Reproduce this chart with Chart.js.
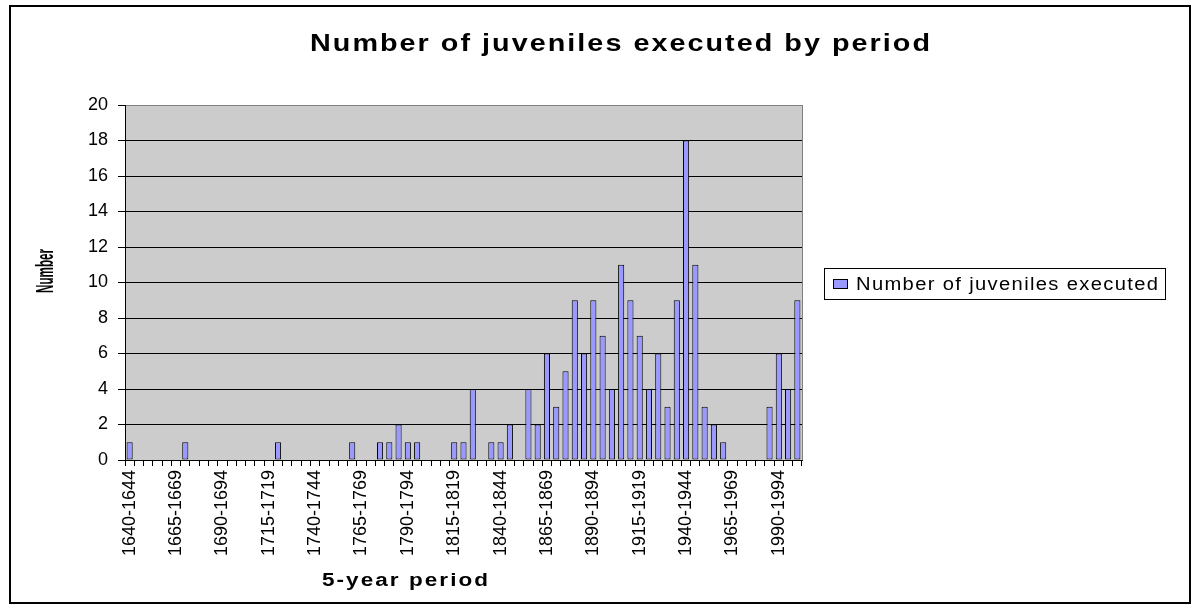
<!DOCTYPE html>
<html>
<head>
<meta charset="utf-8">
<script src="https://cdn.jsdelivr.net/npm/chart.js@4.4.1/dist/chart.umd.min.js"></script>
<style>
  html, body { margin: 0; padding: 0; background: #ffffff; }
  #c { display: block; }
</style>
</head>
<body>
<canvas id="c" width="1200" height="611"></canvas>
<script>
// Five-year periods, 1640-1644 through 2000-2004
const periods = [
  '1640-1644','1645-1649','1650-1654','1655-1659','1660-1664','1665-1669','1670-1674','1675-1679','1680-1684','1685-1689',
  '1690-1694','1695-1699','1700-1704','1705-1709','1710-1714','1715-1719','1720-1724','1725-1729','1730-1734','1735-1739',
  '1740-1744','1745-1749','1750-1754','1755-1759','1760-1764','1765-1769','1770-1774','1775-1779','1780-1784','1785-1789',
  '1790-1794','1795-1799','1800-1804','1805-1809','1810-1814','1815-1819','1820-1824','1825-1829','1830-1834','1835-1839',
  '1840-1844','1845-1849','1850-1854','1855-1859','1860-1864','1865-1869','1870-1874','1875-1879','1880-1884','1885-1889',
  '1890-1894','1895-1899','1900-1904','1905-1909','1910-1914','1915-1919','1920-1924','1925-1929','1930-1934','1935-1939',
  '1940-1944','1945-1949','1950-1954','1955-1959','1960-1964','1965-1969','1970-1974','1975-1979','1980-1984','1985-1989',
  '1990-1994','1995-1999','2000-2004'
];

// Juveniles executed in each period
const executed = [
  1, 0, 0, 0, 0, 0, 1, 0, 0, 0,
  0, 0, 0, 0, 0, 0, 1, 0, 0, 0,
  0, 0, 0, 0, 1, 0, 0, 1, 1, 2,
  1, 1, 0, 0, 0, 1, 1, 4, 0, 1,
  1, 2, 0, 4, 2, 6, 3, 5, 9, 6,
  9, 7, 4, 11, 9, 7, 4, 6, 3, 9,
  18, 11, 3, 2, 1, 0, 0, 0, 0, 3,
  6, 4, 9
];

// Only every fifth period is labelled on the category axis
const labelledPeriods = periods.filter((p, i) => i % 5 === 0);

const seriesName = 'Number of juveniles executed';
const chartTitle = 'Number of juveniles executed by period';
const xTitle = '5-year period';
const yTitle = 'Number';

const FONT = '"Liberation Sans", Arial, Helvetica, sans-serif';
const BAR_FILL = '#9999ff';
const PLOT_FILL = '#cccccc';

Chart.defaults.font.family = FONT;
Chart.defaults.color = '#000000';

// Draws a line of text widened by sx and then letter-spaced so it spans [x0, x1]
function wideText(ctx, text, x0, x1, baseline, font, sx) {
  ctx.save();
  ctx.font = font;
  ctx.letterSpacing = '0px';
  const w0 = ctx.measureText(text).width;
  const gaps = text.length - 1;
  const target = (x1 - x0) / sx;
  const sp = gaps > 0 ? Math.max(0, (target - w0) / gaps) : 0;
  ctx.translate(x0, baseline);
  ctx.scale(sx, 1);
  ctx.letterSpacing = sp + 'px';
  ctx.textAlign = 'left';
  ctx.textBaseline = 'alphabetic';
  ctx.fillStyle = '#000';
  ctx.fillText(text, 0, 0);
  ctx.restore();
}

const frame = {
  id: 'frame',
  beforeDraw(chart) {
    const { ctx, chartArea: a } = chart;
    ctx.save();
    ctx.fillStyle = '#ffffff';
    ctx.fillRect(0, 0, chart.width, chart.height);
    ctx.fillStyle = PLOT_FILL;
    ctx.fillRect(a.left, a.top, a.right - a.left, a.bottom - a.top);
    ctx.restore();
  },
  afterDraw(chart) {
    const { ctx, chartArea: a } = chart;
    ctx.save();

    // grey plot-area edge on the right
    ctx.strokeStyle = '#808080';
    ctx.lineWidth = 1;
    ctx.beginPath();
    ctx.moveTo(a.right + 0.5, a.top);
    ctx.lineTo(a.right + 0.5, a.bottom);
    ctx.stroke();

    // outer chart border
    ctx.strokeStyle = '#000000';
    ctx.lineWidth = 2;
    ctx.strokeRect(10, 6, 1180, 597);

    // chart title
    wideText(ctx, chartTitle, 310, 930, 51, 'bold 23px ' + FONT, 1.25);

    // category axis title
    wideText(ctx, xTitle, 322, 488, 586, 'bold 18px ' + FONT, 1.25);

    // value axis title, rotated and condensed
    ctx.save();
    ctx.translate(53, 271);
    ctx.rotate(-Math.PI / 2);
    ctx.font = 'bold 23px ' + FONT;
    const tw = ctx.measureText(yTitle).width;
    ctx.scale(44 / tw, 1);
    ctx.textAlign = 'center';
    ctx.textBaseline = 'alphabetic';
    ctx.fillStyle = '#000';
    ctx.fillText(yTitle, 0, 0);
    ctx.restore();

    // legend box
    ctx.fillStyle = '#ffffff';
    ctx.fillRect(824, 268, 341, 31);
    ctx.strokeStyle = '#000';
    ctx.lineWidth = 1;
    ctx.strokeRect(824.5, 268.5, 341, 31);
    ctx.fillStyle = BAR_FILL;
    ctx.fillRect(833, 279, 15, 10);
    ctx.strokeRect(833.5, 279.5, 14, 9);
    wideText(ctx, seriesName, 856, 1158, 290, '18px ' + FONT, 1.12);

    ctx.restore();
  }
};

new Chart(document.getElementById('c'), {
  type: 'bar',
  data: {
    labels: periods,
    datasets: [{
      label: seriesName,
      data: executed,
      backgroundColor: BAR_FILL,
      borderColor: '#000000',
      borderWidth: 1,
      borderSkipped: false,
      barPercentage: 0.66,
      categoryPercentage: 1
    }]
  },
  options: {
    responsive: false,
    animation: false,
    devicePixelRatio: 1,
    layout: { padding: { left: 0, top: 105, right: 398, bottom: 0 } },
    plugins: {
      legend: { display: false },
      title: { display: false },
      tooltip: { enabled: false }
    },
    scales: {
      x: {
        offset: true,
        grid: {
          offset: true,
          drawOnChartArea: false,
          drawTicks: true,
          tickLength: 6,
          color: '#000000'
        },
        border: { display: true, color: '#000000', width: 1 },
        ticks: {
          autoSkip: false,
          minRotation: 90,
          maxRotation: 90,
          padding: 4,
          color: '#000000',
          font: { size: 18 },
          callback: (v, i) => labelledPeriods.includes(periods[i]) ? periods[i] : ''
        },
        afterFit: s => { s.height = 151; }
      },
      y: {
        min: 0,
        max: 20,
        ticks: { stepSize: 2, padding: 10, color: '#000000', font: { size: 18 } },
        grid: {
          color: c => (c.tick && c.tick.value === 20) ? '#808080' : '#000000',
          tickColor: '#000000',
          tickLength: 7,
          lineWidth: 1
        },
        border: { color: '#000000', width: 1 },
        afterFit: s => { s.width = 125; }
      }
    }
  },
  plugins: [frame]
});
</script>
</body>
</html>
